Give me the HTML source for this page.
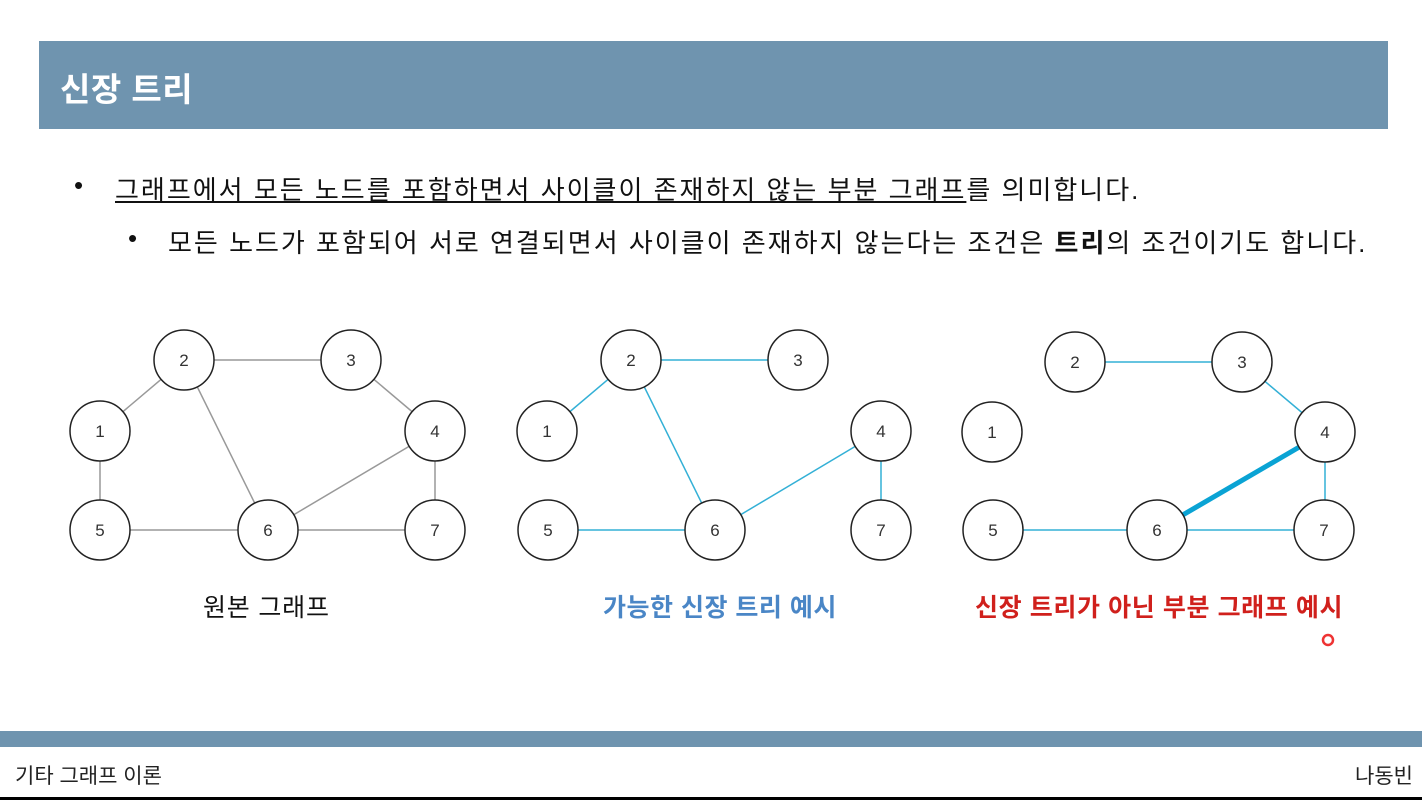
<!DOCTYPE html>
<html><head><meta charset="utf-8"><style>
body{margin:0;width:1422px;height:800px;background:#fff;position:relative;overflow:hidden;font-family:"Liberation Sans","Noto Sans CJK KR",sans-serif;}
.hdr{position:absolute;left:39px;top:41px;width:1349px;height:88px;background:#6f94af;}
.hdr span{position:absolute;left:21px;top:22px;color:#fff;font-size:33px;font-weight:bold;letter-spacing:0.5px;}
.t{position:absolute;white-space:nowrap;color:#111;}
</style></head><body>
<div class="hdr"><span>신장 트리</span></div>
<div class="t" style="left:74px;top:170px;font-size:26px;">•</div>
<div class="t" style="left:115px;top:170px;font-size:26px;letter-spacing:2px;"><u>그래프에서 모든 노드를 포함하면서 사이클이 존재하지 않는 부분 그래프</u>를 의미합니다.</div>
<div class="t" style="left:128px;top:223px;font-size:26px;">•</div>
<div class="t" style="left:168px;top:223px;font-size:26px;letter-spacing:2px;">모든 노드가 포함되어 서로 연결되면서 사이클이 존재하지 않는다는 조건은 <b>트리</b>의 조건이기도 합니다.</div>
<svg width="1422" height="800" style="position:absolute;left:0;top:0" font-family="Liberation Sans, sans-serif">
<g stroke="#999" stroke-width="1.5">
<line x1="100" y1="431" x2="184" y2="360"/><line x1="184" y1="360" x2="351" y2="360"/><line x1="351" y1="360" x2="435" y2="431"/>
<line x1="184" y1="360" x2="268" y2="530"/><line x1="435" y1="431" x2="268" y2="530"/><line x1="100" y1="431" x2="100" y2="530"/>
<line x1="100" y1="530" x2="268" y2="530"/><line x1="268" y1="530" x2="435" y2="530"/><line x1="435" y1="431" x2="435" y2="530"/>
</g>
<g stroke="#33b0d6" stroke-width="1.5">
<line x1="547" y1="431" x2="631" y2="360"/><line x1="631" y1="360" x2="798" y2="360"/><line x1="631" y1="360" x2="715" y2="530"/>
<line x1="881" y1="431" x2="715" y2="530"/><line x1="548" y1="530" x2="715" y2="530"/><line x1="881" y1="431" x2="881" y2="530"/>
<line x1="1075" y1="362" x2="1242" y2="362"/><line x1="1242" y1="362" x2="1325" y2="432"/><line x1="1325" y1="432" x2="1325" y2="530"/>
<line x1="993" y1="530" x2="1157" y2="530"/><line x1="1157" y1="530" x2="1324" y2="530"/>
</g>
<line x1="1157" y1="530" x2="1325" y2="432" stroke="#0aa3d4" stroke-width="5"/>
<g fill="#fff" stroke="#222" stroke-width="1.5">
<circle cx="100" cy="431" r="30"/><circle cx="184" cy="360" r="30"/><circle cx="351" cy="360" r="30"/><circle cx="435" cy="431" r="30"/><circle cx="100" cy="530" r="30"/><circle cx="268" cy="530" r="30"/><circle cx="435" cy="530" r="30"/>
<circle cx="547" cy="431" r="30"/><circle cx="631" cy="360" r="30"/><circle cx="798" cy="360" r="30"/><circle cx="881" cy="431" r="30"/><circle cx="548" cy="530" r="30"/><circle cx="715" cy="530" r="30"/><circle cx="881" cy="530" r="30"/>
<circle cx="992" cy="432" r="30"/><circle cx="1075" cy="362" r="30"/><circle cx="1242" cy="362" r="30"/><circle cx="1325" cy="432" r="30"/><circle cx="993" cy="530" r="30"/><circle cx="1157" cy="530" r="30"/><circle cx="1324" cy="530" r="30"/>
</g>
<g font-size="17" fill="#333" text-anchor="middle">
<text x="100" y="437">1</text><text x="184" y="366">2</text><text x="351" y="366">3</text><text x="435" y="437">4</text><text x="100" y="536">5</text><text x="268" y="536">6</text><text x="435" y="536">7</text>
<text x="547" y="437">1</text><text x="631" y="366">2</text><text x="798" y="366">3</text><text x="881" y="437">4</text><text x="548" y="536">5</text><text x="715" y="536">6</text><text x="881" y="536">7</text>
<text x="992" y="438">1</text><text x="1075" y="368">2</text><text x="1242" y="368">3</text><text x="1325" y="438">4</text><text x="993" y="536">5</text><text x="1157" y="536">6</text><text x="1324" y="536">7</text>
</g>
<circle cx="1328" cy="640" r="5" fill="none" stroke="#e33" stroke-width="2.5"/>
</svg>
<div class="t" style="left:203px;top:588px;font-size:25px;letter-spacing:0.8px;">원본 그래프</div>
<div class="t" style="left:603px;top:588px;font-size:25px;color:#4a86c6;font-weight:bold;letter-spacing:0.5px;">가능한 신장 트리 예시</div>
<div class="t" style="left:975px;top:588px;font-size:25px;color:#d0201c;font-weight:bold;letter-spacing:0.6px;">신장 트리가 아닌 부분 그래프 예시</div>
<div style="position:absolute;left:0;top:731px;width:1422px;height:16px;background:#6f94af;"></div>
<div class="t" style="left:15px;top:760px;font-size:21px;color:#222;">기타 그래프 이론</div>
<div class="t" style="left:1355px;top:760px;font-size:21px;color:#222;">나동빈</div>
<div style="position:absolute;left:0;top:797px;width:1422px;height:3px;background:#000;"></div>
</body></html>
